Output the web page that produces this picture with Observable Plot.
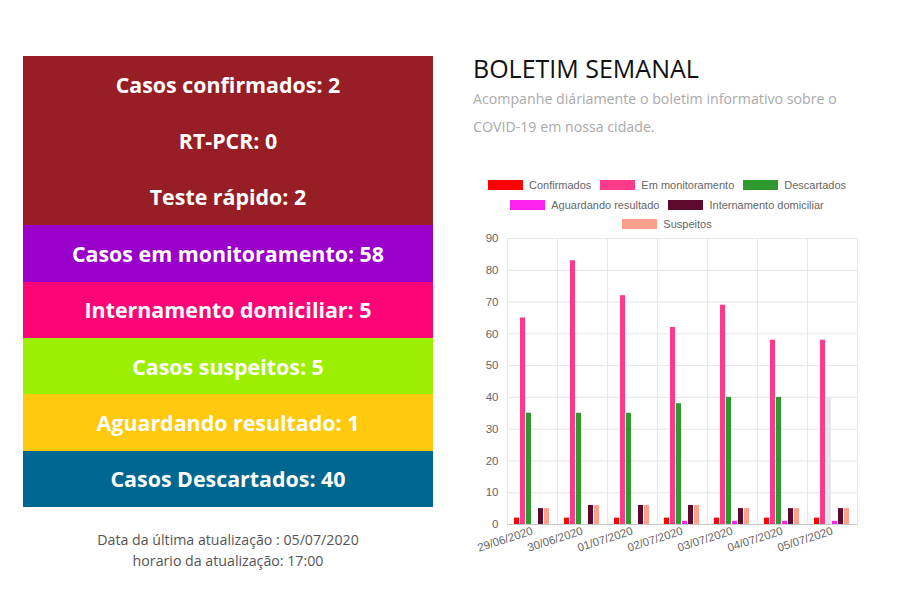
<!DOCTYPE html>
<html>
<head>
<meta charset="utf-8">
<script src="https://cdn.jsdelivr.net/npm/d3@7"></script>
<script src="https://cdn.jsdelivr.net/npm/@observablehq/plot@0.6"></script>
<style>
  html, body { margin: 0; padding: 0; background: #fff; width: 900px; height: 600px; overflow: hidden; }
  #left { position: absolute; left: 23px; top: 56px; width: 410px; }
  .row { height: 56.4px; display: flex; align-items: center; justify-content: center;
         color: #fff; font-family: "Open Sans", sans-serif; font-weight: 700; font-size: 21.4px; }
  #foot { position: absolute; left: 23px; top: 529px; width: 410px; text-align: center;
          font-family: "Open Sans", sans-serif; font-size: 14.2px; color: #555; line-height: 21px; }
  #title { position: absolute; left: 473px; top: 51px; font-family: "Open Sans", sans-serif;
           font-size: 25px; color: #111; }
  #sub { position: absolute; left: 473px; top: 85px; width: 400px; font-family: "Open Sans", sans-serif;
         font-size: 14.2px; color: #aaa; line-height: 28px; }
  #legend { position: absolute; left: 467px; top: 175.5px; width: 400px;
            font-family: "Liberation Sans", Arial, sans-serif; font-size: 11px; color: #666; }
  .lrow { height: 19.5px; display: flex; justify-content: center; align-items: center; }
  .li { display: flex; align-items: center; margin: 0 4.5px; }
  .sw { width: 35px; height: 10px; margin-right: 6px; }
  #chart { position: absolute; left: 465px; top: 232px; }
</style>
</head>
<body>
<div id="left"></div>
<div id="foot">Data da última atualização : 05/07/2020<br>horario da atualização: 17:00</div>
<div id="title">BOLETIM SEMANAL</div>
<div id="sub">Acompanhe diáriamente o boletim informativo sobre o COVID-19 em nossa cidade.</div>
<div id="legend"></div>
<div id="chart"></div>
<script>
// ---- Left panel summary ----
const panelLabels = ["Casos confirmados: 2", "RT-PCR: 0", "Teste rápido: 2", "Casos em monitoramento: 58",
  "Internamento domiciliar: 5", "Casos suspeitos: 5", "Aguardando resultado: 1", "Casos Descartados: 40"];
const panelColors = ["#961e24", "#961e24", "#961e24", "#9900c9", "#ff0477", "#9cef00", "#ffca0e", "#006890"];

// ---- Chart data ----
const dates = ["29/06/2020", "30/06/2020", "01/07/2020", "02/07/2020", "03/07/2020", "04/07/2020", "05/07/2020"];
const series = ["Confirmados", "Em monitoramento", "Descartados", "Aguardando resultado", "Internamento domiciliar", "Suspeitos"];
const confirmados = [2, 2, 2, 2, 2, 2, 2];
const emMonitoramento = [65, 83, 72, 62, 69, 58, 58];
const descartados = [35, 35, 35, 38, 40, 40, 40];
const aguardando = [0, 0, 0, 1, 1, 1, 1];
const internamento = [5, 6, 6, 6, 5, 5, 5];
const suspeitos = [5, 6, 6, 6, 5, 5, 5];
const seriesColors = ["#ff0000", "#ff3a88", "#2e9a2e", "#ff22ee", "#5e0a2e", "#ffa08a"];
const legendRows = [[0, 1, 2], [3, 4], [5]];
const hoverDate = "05/07/2020", hoverSerie = "Descartados", hoverColor = "#e6e6e6";
const yTicks = [0, 10, 20, 30, 40, 50, 60, 70, 80, 90];

// left panel
const left = d3.select("#left");
panelLabels.forEach((t, i) => left.append("div").attr("class", "row").style("background", panelColors[i]).text(t));

// legend
const leg = d3.select("#legend");
legendRows.forEach(r => {
  const row = leg.append("div").attr("class", "lrow");
  r.forEach(i => {
    const it = row.append("div").attr("class", "li");
    it.append("div").attr("class", "sw").style("background", seriesColors[i]);
    it.append("span").text(series[i]);
  });
});

const valuesBySerie = [confirmados, emMonitoramento, descartados, aguardando, internamento, suspeitos];
const rows = [];
dates.forEach((d, di) => series.forEach((s, si) => {
  rows.push({date: d, serie: s, value: valuesBySerie[si][di],
    color: (d === hoverDate && s === hoverSerie) ? hoverColor : seriesColors[si]});
}));

const plot = Plot.plot({
  width: 400, height: 330,
  marginLeft: 40, marginTop: 6, marginBottom: 38, marginRight: 7,
  style: {fontFamily: "'Liberation Sans', Arial, sans-serif", fontSize: "11.5px", color: "#666", background: "transparent"},
  fx: {domain: dates, padding: 0, label: null, axis: "bottom", tickRotate: -18, tickSize: 0, tickPadding: 6},
  x: {domain: series, paddingInner: 0.1, paddingOuter: 0.8, axis: null},
  y: {domain: [0, 90], ticks: yTicks, tickSize: 0, tickPadding: 9, label: null},
  color: {type: "identity"},
  marks: [
    Plot.ruleY(yTicks, {stroke: "#e6e6e6"}),
    Plot.frame({stroke: "#e6e6e6"}),
    Plot.barY(rows, {fx: "date", x: "serie", y: "value", fill: "color"}),
    Plot.ruleY([0], {stroke: "#c8c8c8"})
  ]
});
document.getElementById("chart").appendChild(plot);
</script>
</body>
</html>
